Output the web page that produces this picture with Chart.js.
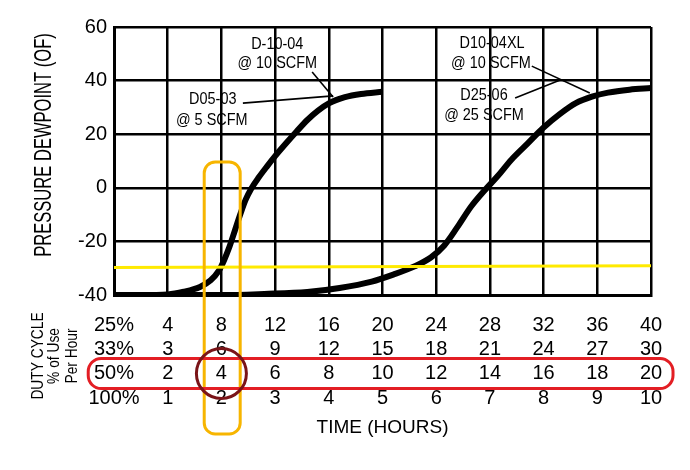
<!DOCTYPE html>
<html>
<head>
<meta charset="utf-8">
<script src="https://cdn.jsdelivr.net/npm/chart.js@4.4.1/dist/chart.umd.min.js"></script>
<style>
  html, body { margin: 0; padding: 0; background: #fff; }
  #wrap { width: 690px; height: 470px; position: relative; }
</style>
</head>
<body>
<div id="wrap"><canvas id="c" width="690" height="470"></canvas></div>
<script>
// ---- Data ----
const hourTicks = [0, 1, 2, 3, 4, 5, 6, 7, 8, 9, 10];
const row25  = ['25%', '4', '8', '12', '16', '20', '24', '28', '32', '36', '40'];
const row33  = ['33%', '3', '6', '9', '12', '15', '18', '21', '24', '27', '30'];
const row50  = ['50%', '2', '4', '6', '8', '10', '12', '14', '16', '18', '20'];
const row100 = ['100%', '1', '2', '3', '4', '5', '6', '7', '8', '9', '10'];

// D05-03 @5 SCFM / D-10-04 @10 SCFM curve
const smallHours  = [0, 0.5, 1.0, 1.3, 1.6, 1.8, 1.95, 2.05, 2.15, 2.25, 2.35, 2.45, 2.55, 2.7, 2.85, 3.0, 3.2, 3.4, 3.6, 3.8, 4.0, 4.3, 4.6, 5.0];
const smallValues = [-40, -40, -39.8, -38.8, -37, -34.5, -31, -27, -22, -16, -10, -4.5, -0.5, 4, 8, 11.8, 16.5, 21, 25.3, 28.8, 31.5, 33.8, 35, 35.8];

// D10-04XL @10 SCFM / D25-06 @25 SCFM curve
const largeHours  = [0, 1, 2, 2.8, 3.6, 4.2, 4.8, 5.2, 5.6, 5.9, 6.15, 6.4, 6.65, 6.9, 7.15, 7.4, 7.7, 8.0, 8.3, 8.6, 8.9, 9.2, 9.6, 10];
const largeValues = [-40, -40, -40, -39.6, -38.9, -37.4, -35, -32.4, -29.3, -26, -21.5, -14.5, -7, -1, 4.5, 10.5, 16.5, 22.5, 27.5, 31.6, 34, 35.5, 36.6, 37.2];

// Yellow reference line
const refHours  = [0, 10];
const refValues = [-29.7, -29.1];

const yTicks = [-40, -20, 0, 20, 40, 60];

// Annotation labels
const noteTexts  = ['D-10-04', '@ 10 SCFM', 'D05-03', '@ 5 SCFM', 'D10-04XL', '@ 10 SCFM', 'D25-06', '@ 25 SCFM'];
const noteHours  = [3.04, 3.04, 1.84, 1.82, 7.04, 7.02, 6.89, 6.89];
const noteValues = [53.7, 46.6, 33.0, 25.3, 54.0, 46.6, 34.6, 27.2];
// leader lines: [h1, v1, h2, v2]
const leaders = [
  [3.69, 43.2, 4.08, 33.9],
  [2.40, 31.6, 4.08, 34.3],
  [7.78, 45.4, 8.86, 35.4],
  [7.47, 33.5, 8.31, 40.2]
];

const FONT = '"Liberation Sans", Arial, sans-serif';
Chart.defaults.font.family = FONT;
Chart.defaults.color = '#000';

const toXY = (hs, vs) => hs.map((h, i) => ({ x: h, y: vs[i] }));

function condensedText(ctx, text, cx, cy, rot, sx) {
  ctx.save();
  ctx.translate(cx, cy);
  if (rot) ctx.rotate(rot);
  ctx.scale(sx, 1);
  ctx.fillText(text, 0, 0);
  ctx.restore();
}

const overlay = {
  id: 'overlay',
  afterDatasetsDraw(chart) {
    const { ctx, scales: { x, y } } = chart;
    ctx.save();
    ctx.fillStyle = '#000';
    ctx.font = '17px ' + FONT;
    ctx.textAlign = 'center';
    ctx.textBaseline = 'middle';
    noteTexts.forEach((t, i) => {
      condensedText(ctx, t, x.getPixelForValue(noteHours[i]), y.getPixelForValue(noteValues[i]), 0, 0.85);
    });
    ctx.strokeStyle = '#000';
    ctx.lineWidth = 1.6;
    leaders.forEach(l => {
      ctx.beginPath();
      ctx.moveTo(x.getPixelForValue(l[0]), y.getPixelForValue(l[1]));
      ctx.lineTo(x.getPixelForValue(l[2]), y.getPixelForValue(l[3]));
      ctx.stroke();
    });
    ctx.restore();
  },
  afterDraw(chart) {
    const { ctx, scales: { x, y, x3, x4 } } = chart;
    ctx.save();
    ctx.fillStyle = '#000';
    ctx.textAlign = 'center';
    ctx.textBaseline = 'middle';
    // Y axis title (condensed)
    ctx.font = '24px ' + FONT;
    condensedText(ctx, 'PRESSURE DEWPOINT (OF)', 44, 145, -Math.PI / 2, 0.69);
    // Duty cycle label
    ctx.font = '16px ' + FONT;
    [['DUTY CYCLE', 39], ['% of Use', 55], ['Per Hour', 73]].forEach(([t, cx]) => {
      condensedText(ctx, t, cx, 356, -Math.PI / 2, 0.86);
    });

    const rowC = x3.top + 12;
    ctx.lineWidth = 3;
    // orange highlight column
    ctx.strokeStyle = '#F7B500';
    const ox1 = x.getPixelForValue(1.68), ox2 = x.getPixelForValue(2.35);
    const oy1 = y.getPixelForValue(9.6), oy2 = x4.top + 48;
    ctx.beginPath();
    ctx.roundRect(ox1, oy1, ox2 - ox1, oy2 - oy1, 11);
    ctx.stroke();
    // red highlight row
    ctx.strokeStyle = '#E31E24';
    const rx1 = x.getPixelForValue(-0.48), rx2 = x.getPixelForValue(10.41);
    ctx.beginPath();
    ctx.roundRect(rx1, rowC - 15, rx2 - rx1, 30, 13);
    ctx.stroke();
    // circle
    ctx.strokeStyle = '#7A1418';
    ctx.beginPath();
    ctx.arc(x.getPixelForValue(2), rowC, 25, 0, Math.PI * 2);
    ctx.stroke();
    ctx.restore();
  }
};

const gridStyle = { color: '#000', lineWidth: 2.5, drawTicks: false };
const borderStyle = { color: '#000', width: 3 };
const tickFont = { size: 20, lineHeight: 1 };

function extraX(rows, weight, height, extra) {
  return Object.assign({
    type: 'linear', position: 'bottom', weight: weight, min: 0, max: 10,
    grid: { display: false, drawTicks: false }, border: { display: false },
    afterBuildTicks: s => { s.ticks = hourTicks.map(v => ({ value: v })); },
    ticks: { autoSkip: false, maxRotation: 0, padding: 2, font: tickFont,
             callback: v => rows[v] },
    afterFit: s => { s.height = height; }
  }, extra || {});
}

new Chart(document.getElementById('c'), {
  type: 'line',
  data: {
    datasets: [
      { data: toXY(refHours, refValues), borderColor: '#FFEA00', borderWidth: 3, pointRadius: 0, order: 0 },
      { data: toXY(smallHours, smallValues), borderColor: '#000', borderWidth: 6, pointRadius: 0, cubicInterpolationMode: 'monotone', order: 1 },
      { data: toXY(largeHours, largeValues), borderColor: '#000', borderWidth: 6, pointRadius: 0, cubicInterpolationMode: 'monotone', order: 1 }
    ]
  },
  options: {
    responsive: false,
    animation: false,
    devicePixelRatio: 1,
    layout: { padding: { left: 0, right: 39, top: 27, bottom: 0 } },
    plugins: { legend: { display: false }, tooltip: { enabled: false } },
    scales: {
      y: {
        type: 'linear', min: -40, max: 60,
        grid: gridStyle, border: borderStyle,
        afterBuildTicks: s => { s.ticks = yTicks.map(v => ({ value: v })); },
        ticks: { padding: 7, font: tickFont },
        afterFit: s => { s.width = 114; }
      },
      x: {
        type: 'linear', position: 'bottom', weight: 0, min: 0, max: 10,
        grid: gridStyle, border: borderStyle,
        afterBuildTicks: s => { s.ticks = hourTicks.map(v => ({ value: v })); },
        ticks: { autoSkip: false, maxRotation: 0, padding: 20, font: tickFont, callback: v => row25[v] },
        afterFit: s => { s.height = 42; }
      },
      x2: extraX(row33, 1, 24.5),
      x3: extraX(row50, 2, 24.5),
      x4: extraX(row100, 3, 84, {
        title: { display: true, text: 'TIME (HOURS)', font: { size: 19, lineHeight: 1 }, padding: { top: 0, bottom: 32.5 } }
      })
    }
  },
  plugins: [overlay]
});
</script>
</body>
</html>
